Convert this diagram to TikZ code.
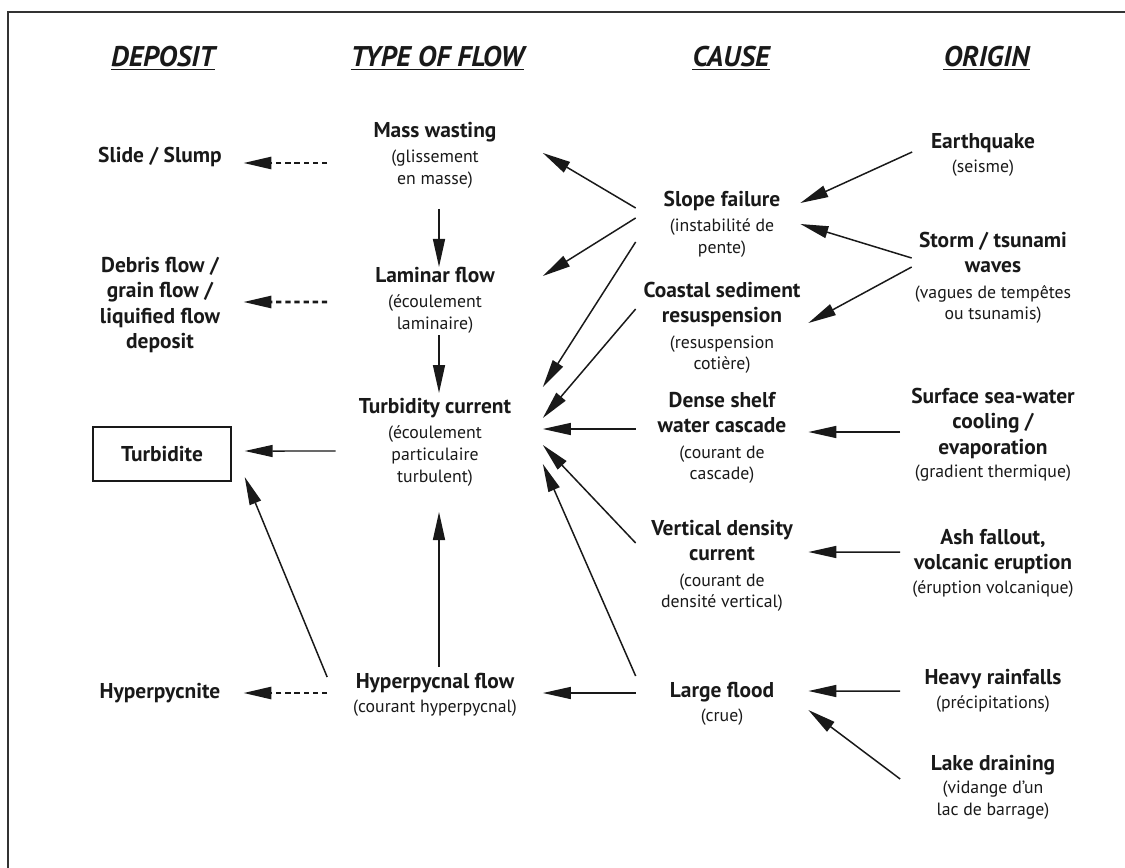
\documentclass[tikz,border=0pt]{standalone}
\usepackage{fontspec}
\setmainfont{PT Sans}
\usetikzlibrary{arrows.meta}

\newcommand{\bl}[1]{{\fontsize{12.2}{14}\selectfont\bfseries #1}}

\begin{document}
\begin{tikzpicture}
% Node styles ---
\tikzstyle{head} = [inner sep = 0pt, anchor = base, text = black!90, font = \fontsize{16.2}{18}\selectfont\bfseries\itshape]
\tikzstyle{uline} = [line width = 1.1pt, draw = black!90]
\tikzstyle{dep} = [align = center, minimum width = 3.32cm, text = black!90, font = \fontsize{12.2}{14.4}\selectfont\bfseries]
\tikzstyle{box} = [rectangle, line width = 0.8pt, draw = black!90, minimum width = 2.76cm, minimum height = 1.08cm, text = black!90, font = \fontsize{12.2}{14.4}\selectfont\bfseries]
\tikzstyle{flow} = [align = center, minimum width = 4.3cm, text = black!90, font = \fontsize{10.1}{12.4}\selectfont]
\tikzstyle{cause} = [flow, minimum width = 3.44cm]
\tikzstyle{orig} = [flow, minimum width = 3.7cm]
\tikzstyle{con} = [-{Triangle[length = 0.56cm, width = 0.24cm]}, line width = 0.85pt, draw = black!90]
\tikzstyle{dashcon} = [con, line width = 1.5pt, dash pattern = on 3pt off 2.2pt]
% Begin Figure ---
\useasboundingbox (0,0) rectangle (22.5,17.34);
\draw [line width = 1.1pt, draw = black!80] (0.16,-1) -- (0.16,17.10) -- (23.5,17.10);
% Headers
\node at (3.26,16.0) [head] (hdep) {DEPOSIT};
\node at (8.75,16.0) [head] (htype) {TYPE OF FLOW};
\node at (14.62,16.0) [head] (hcause) {CAUSE};
\node at (19.73,16.0) [head] (horig) {ORIGIN};
\foreach \h in {hdep, htype, hcause, horig}
  \draw [uline] ([yshift=-0.05cm]\h.base west) -- ([yshift=-0.05cm]\h.base east);
% Deposits
\node at (3.20,14.20) [dep] (slide) {Slide / Slump};
\node at (3.20,11.24) [dep] (debris) {Debris flow /\\ grain flow /\\ liquified flow\\ deposit};
\node at (3.24,8.26) [box] (tbox) {Turbidite};
\node at (3.20,3.48) [dep] (hypnite) {Hyperpycnite};
% Types of flow
\node at (8.70,14.24) [flow] (mass) {\bl{Mass wasting}\\[2pt] (glissement\\ en masse)};
\node at (8.70,11.34) [flow] (lam) {\bl{Laminar flow}\\[2pt] (écoulement\\ laminaire)};
\node at (8.70,8.50) [flow] (turb) {\bl{Turbidity current}\\[2pt] (écoulement\\ particulaire\\ turbulent)};
\node at (8.70,3.44) [flow] (hyper) {\bl{Hyperpycnal flow}\\[1pt] (courant hyperpycnal)};
% Causes
\node at (14.44,12.86) [cause] (slope) {\bl{Slope failure}\\[2pt] (instabilité de\\ pente)};
\node at (14.44,10.78) [cause] (coast) {\bl{Coastal sediment}\\[2pt] \bl{resuspension}\\[2pt] (resuspension\\ cotière)};
\node at (14.44,8.58) [cause] (dense) {\bl{Dense shelf}\\[2pt] \bl{water cascade}\\[2pt] (courant de\\ cascade)};
\node at (14.44,6.02) [cause] (vert) {\bl{Vertical density}\\[2pt] \bl{current}\\[2pt] (courant de\\ densité vertical)};
\node at (14.44,3.26) [cause] (flood) {\bl{Large flood}\\[1pt] (crue)};
% Origins
\node at (19.66,14.24) [orig] (quake) {\bl{Earthquake}\\[1pt] (seisme)};
\node at (19.86,11.78) [orig] (storm) {\bl{Storm / tsunami}\\[2pt] \bl{waves}\\[2pt] (vagues de tempêtes\\ ou tsunamis)};
\node at (19.86,8.64) [orig] (surf) {\bl{Surface sea-water}\\[2pt] \bl{cooling /}\\[2pt] \bl{evaporation}\\[1pt] (gradient thermique)};
\node at (19.86,6.08) [orig] (ash) {\bl{Ash fallout,}\\[2pt] \bl{volcanic eruption}\\[1pt] (éruption volcanique)};
\node at (19.86,3.52) [orig] (rain) {\bl{Heavy rainfalls}\\[1pt] (précipitations)};
\node at (19.86,1.60) [orig] (lake) {\bl{Lake draining}\\[1pt] (vidange d’un\\ lac de barrage)};
% Paths
\path ([yshift=-0.16cm]mass.west) edge [dashcon] ([yshift=-0.12cm]slide.east);
\path ([yshift=-0.04cm]lam.west) edge [dashcon] ([yshift=0.06cm]debris.east);
\path ([yshift=0.04cm]hyper.west) edge [dashcon] (hypnite.east);
\path ([xshift=0.17cm, yshift=-0.18cm]turb.west) edge [con] ([xshift=0.26cm, yshift=0.06cm]tbox.east);
\path ([yshift=0.36cm]hyper.west) edge [con] ([xshift=0.26cm, yshift=-0.46cm]tbox.east);
\path ([shift={(0.08,-1.08)}]mass.center) edge [con] ([shift={(0.08,0.66)}]lam.center);
\path ([shift={(0.08,-0.70)}]lam.center) edge [con] ([shift={(0.08,0.98)}]turb.center);
\path ([shift={(0.08,0.56)}]hyper.center) edge [con] ([shift={(0.08,-1.40)}]turb.center);
\path ([yshift=0.32cm]slope.west) edge [con] ([yshift=0.04cm]mass.east);
\path ([yshift=0.12cm]slope.west) edge [con] ([yshift=0.48cm]lam.east);
\path ([yshift=-0.36cm]slope.west) edge [con] ([yshift=1.10cm]turb.east);
\path ([yshift=0.38cm]coast.west) edge [con] ([yshift=0.48cm]turb.east);
\path ([yshift=0.18cm]dense.west) edge [con] ([yshift=0.26cm]turb.east);
\path ([yshift=0.46cm]vert.west) edge [con] ([yshift=-0.06cm]turb.east);
\path ([yshift=0.56cm]flood.west) edge [con] ([yshift=-0.44cm]turb.east);
\path ([yshift=0.22cm]flood.west) edge [con] ([yshift=0.04cm]hyper.east);
% origins to causes
\path ([xshift=0.44cm, yshift=0.06cm]quake.west) edge [con] ([xshift=-0.16cm, yshift=0.42cm]slope.east);
\path ([xshift=0.23cm, yshift=0.40cm]storm.west) edge [con] ([xshift=-0.16cm]slope.east);
\path ([xshift=0.23cm, yshift=0.22cm]storm.west) edge [con] ([yshift=0.10cm]coast.east);
\path ([yshift=0.06cm]surf.west) edge [con] ([yshift=0.12cm]dense.east);
\path ([yshift=0.22cm]ash.west) edge [con] ([yshift=0.28cm]vert.east);
\path (rain.west) edge [con] ([yshift=0.26cm]flood.east);
\path ([yshift=0.16cm]lake.west) edge [con] ([yshift=-0.12cm]flood.east);
\end{tikzpicture}
\end{document}
